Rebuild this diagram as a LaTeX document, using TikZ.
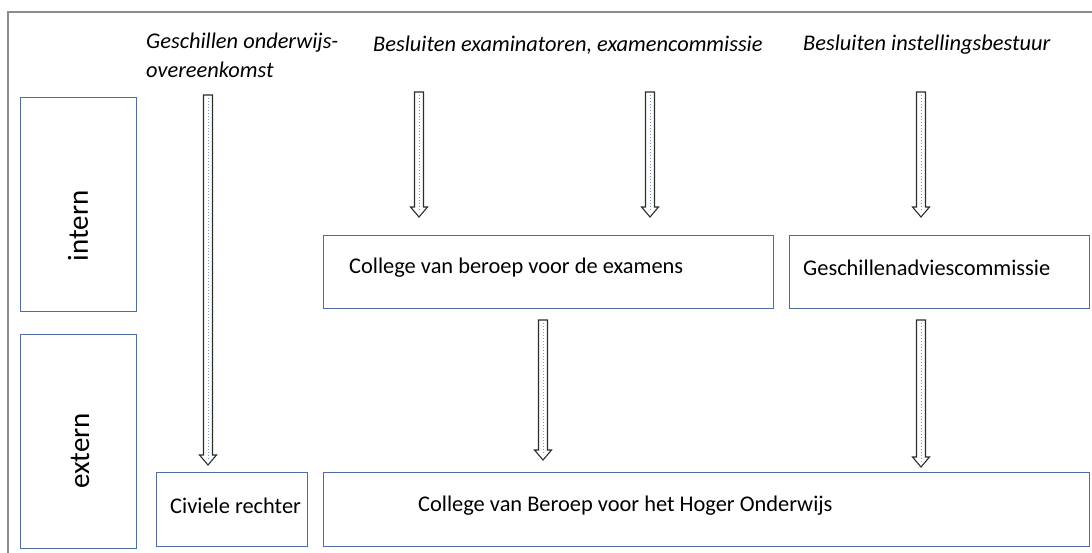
\documentclass[tikz,border=0pt]{standalone}
\usepackage{fontspec}
\setmainfont{Carlito}
\usetikzlibrary{calc}
\definecolor{boxblue}{RGB}{80,108,166}
\definecolor{framegray}{RGB}{140,140,140}
\definecolor{dotblue}{RGB}{120,150,210}
\definecolor{arrowline}{RGB}{45,45,45}
\tikzset{
  box/.style={draw=boxblue, line width=1.4pt, fill=white, anchor=north west, inner sep=0pt},
  boxtext/.style={anchor=west, inner sep=0pt, font=\fontsize{22.4}{26}\selectfont},
  toplabel/.style={anchor=west, inner sep=0pt, font=\fontsize{22.4}{26}\selectfont\itshape},
  sidelabel/.style={rotate=90, inner sep=0pt, font=\fontsize{29}{34}\selectfont},
  blockarrow/.style={draw=arrowline, line width=1.1pt, fill=white, line join=miter},
  arrowdots/.style={draw=dotblue, line width=1pt, dotted}
}
\newcommand{\hollowarrow}[2]{%
  \draw[blockarrow] ($(#1)+(-4.5,0)$) -- ($(#1|-#2)+(-4.5,-10)$) -- ($(#1|-#2)+(-8.5,-10)$)
    -- (#1|-#2) -- ($(#1|-#2)+(8.5,-10)$) -- ($(#1|-#2)+(4.5,-10)$) -- ($(#1)+(4.5,0)$) -- cycle;
  \draw[arrowdots] ($(#1)+(0,3)$) -- ($(#1|-#2)+(0,-5)$);
}
\begin{document}
\begin{tikzpicture}[x=1pt,y=-1pt]
\useasboundingbox (0,0) rectangle (1092,553);
% outer frame
\draw[framegray, line width=1.2pt] (8,553) -- (8,12) -- (1092,12);

% side boxes
\node[box, minimum width=116pt, minimum height=214pt] (intern) at (20,97) {};
\node[sidelabel] (interntxt) at (78,226) {intern};
\node[box, minimum width=116pt, minimum height=214pt] (extern) at (20,334) {};
\node[sidelabel] (externtxt) at (80,451) {extern};

% top labels
\node[toplabel] (lab1a) at (146,43) {Geschillen onderwijs-};
\node[toplabel] (lab1b) at (146,70) {overeenkomst};
\node[toplabel] (lab2) at (373,45) {Besluiten examinatoren, examencommissie};
\node[toplabel] (lab3) at (803,45) {Besluiten instellingsbestuur};

% middle boxes
\node[box, minimum width=450pt, minimum height=73pt] (cbe) at (323,235) {};
\node[boxtext] (cbetxt) at (349,268) {College van beroep voor de examens};
\node[box, minimum width=300pt, minimum height=73pt] (gac) at (789,235) {};
\node[boxtext] (gactxt) at (803,268) {Geschillenadviescommissie};

% bottom boxes
\node[box, minimum width=151pt, minimum height=74pt] (civ) at (156,472) {};
\node[boxtext] (civtxt) at (170,506) {Civiele rechter};
\node[box, minimum width=766pt, minimum height=74pt] (cbho) at (323,472) {};
\node[boxtext] (cbhotxt) at (418,506) {College van Beroep voor het Hoger Onderwijs};

% arrow endpoints
\coordinate (a1s) at (208,95);  \coordinate (a1e) at (208,465);
\coordinate (a2s) at (419,92);  \coordinate (a2e) at (419,217);
\coordinate (a3s) at (650,92);  \coordinate (a3e) at (650,217);
\coordinate (a4s) at (921,92);  \coordinate (a4e) at (921,217);
\coordinate (a5s) at (543,320); \coordinate (a5e) at (543,460);
\coordinate (a6s) at (921,320); \coordinate (a6e) at (921,467);

\hollowarrow{a1s}{a1e}
\hollowarrow{a2s}{a2e}
\hollowarrow{a3s}{a3e}
\hollowarrow{a4s}{a4e}
\hollowarrow{a5s}{a5e}
\hollowarrow{a6s}{a6e}
\end{tikzpicture}
\end{document}
